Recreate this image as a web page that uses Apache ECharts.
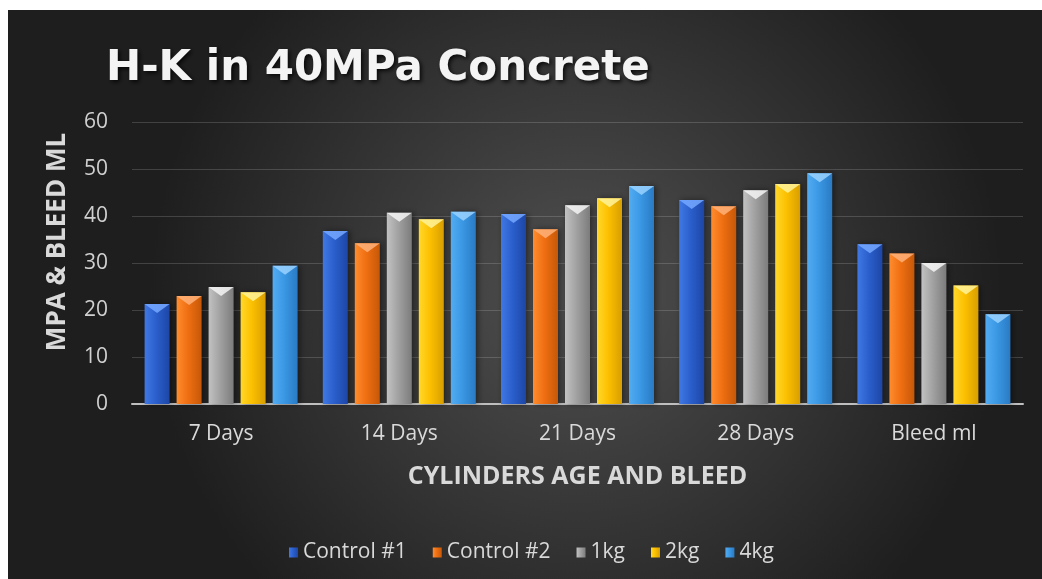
<!DOCTYPE html>
<html>
<head>
<meta charset="utf-8">
<script src="https://cdn.jsdelivr.net/npm/echarts@6/dist/echarts.min.js"></script>
<style>
  html, body { margin: 0; padding: 0; background: #ffffff; }
  #main { position: absolute; left: 8px; top: 10px; width: 1034px; height: 569px; }
</style>
</head>
<body>
<div id="main"></div>
<script>
(function () {

    var categories = ['7 Days', '14 Days', '21 Days', '28 Days', 'Bleed ml'];
    var seriesNames = ['Control #1', 'Control #2', '1kg', '2kg', '4kg'];
    var control1 = [21.3, 36.8, 40.4, 43.4, 34.0];
    var control2 = [23.0, 34.2, 37.2, 42.1, 32.0];
    var kg1 = [24.9, 40.7, 42.3, 45.5, 30.0];
    var kg2 = [23.8, 39.3, 43.8, 46.8, 25.2];
    var kg4 = [29.4, 40.9, 46.4, 49.1, 19.1];
    var yTicks = [0, 10, 20, 30, 40, 50, 60];

    var values = [control1, control2, kg1, kg2, kg4];
    // left edge, middle, right edge, top chevron
    var shades = [
        ['#3f78e4', '#2b5fcc', '#1d46a6', '#76a8ff'],
        ['#ff8c2e', '#ef6f12', '#c65808', '#ffb27a'],
        ['#c2c2c2', '#a2a2a2', '#7c7c7c', '#f4f4f4'],
        ['#ffd82a', '#fcc000', '#d89e00', '#fff39a'],
        ['#52acf2', '#3b98e4', '#2a7ac4', '#9ad2ff']
    ];

    var font = '"Open Sans", Lato, sans-serif';
    var barW = 25;

    var series = [];
    seriesNames.forEach(function (name, i) {
        var s = shades[i];
        series.push({
            name: name,
            type: 'bar',
            data: values[i],
            barWidth: barW,
            barGap: '28%',
            itemStyle: {
                color: new echarts.graphic.LinearGradient(0, 0, 1, 0, [
                    { offset: 0, color: s[0] },
                    { offset: 0.45, color: s[1] },
                    { offset: 1, color: s[2] }
                ]),
                shadowColor: 'rgba(0,0,0,0.45)',
                shadowBlur: 6,
                shadowOffsetX: 2
            }
        });
    });
    // light chevron at the top of each bar
    seriesNames.forEach(function (name, i) {
        series.push({
            name: name,
            type: 'pictorialBar',
            data: values[i],
            symbol: 'triangle',
            symbolRotate: 180,
            symbolSize: [barW, 9],
            symbolPosition: 'end',
            barWidth: barW,
            barGap: '28%',
            z: 5,
            itemStyle: { color: shades[i][3], opacity: 0.85 }
        });
    });

    var myChart = echarts.init(document.getElementById('main'));
    myChart.setOption({
        animation: false,
        backgroundColor: new echarts.graphic.RadialGradient(0.55, 0.5, 0.75, [
            { offset: 0, color: '#505050' },
            { offset: 1, color: '#1e1e1e' }
        ]),
        title: {
            text: 'H-K in 40MPa Concrete',
            left: 93,
            top: 33,
            textStyle: {
                color: '#f4f4f4',
                fontFamily: '"DejaVu Sans", sans-serif',
                fontWeight: 'bold',
                fontSize: 42,
                textShadowColor: 'rgba(0,0,0,0.8)',
                textShadowBlur: 4,
                textShadowOffsetX: 2,
                textShadowOffsetY: 2
            }
        },
        legend: {
            data: seriesNames,
            left: 276,
            top: 527,
            itemWidth: 9,
            itemHeight: 10,
            itemGap: 26,
            icon: 'rect',
            textStyle: { color: '#d9d9d9', fontFamily: font, fontSize: 21 }
        },
        grid: { left: 124, right: 19, top: 112, bottom: 175 },
        xAxis: {
            type: 'category',
            data: categories,
            name: 'CYLINDERS AGE AND BLEED',
            nameLocation: 'middle',
            nameGap: 60,
            nameTextStyle: { color: '#d9d9d9', fontFamily: font, fontWeight: 'bold', fontSize: 25 },
            axisLine: { lineStyle: { color: '#bfbfbf', width: 2 } },
            axisTick: { show: false },
            axisLabel: { color: '#d9d9d9', fontFamily: font, fontSize: 21, margin: 20 }
        },
        yAxis: {
            type: 'value',
            min: yTicks[0],
            max: yTicks[yTicks.length - 1],
            interval: 10,
            name: 'MPA & BLEED ML',
            nameLocation: 'middle',
            nameGap: 61,
            nameTextStyle: {
                color: '#d9d9d9', fontFamily: font, fontWeight: 'bold', fontSize: 26,
                padding: [0, 0, 0, 42]
            },
            axisLine: { show: false },
            axisTick: { show: false },
            axisLabel: { color: '#d0d0d0', fontFamily: font, fontSize: 21, margin: 24 },
            splitLine: { lineStyle: { color: 'rgba(255,255,255,0.16)', width: 1 } }
        },
        series: series
    });
    window.addEventListener('resize', function () {
        myChart.resize();
    });

})();
</script>
</body>
</html>
